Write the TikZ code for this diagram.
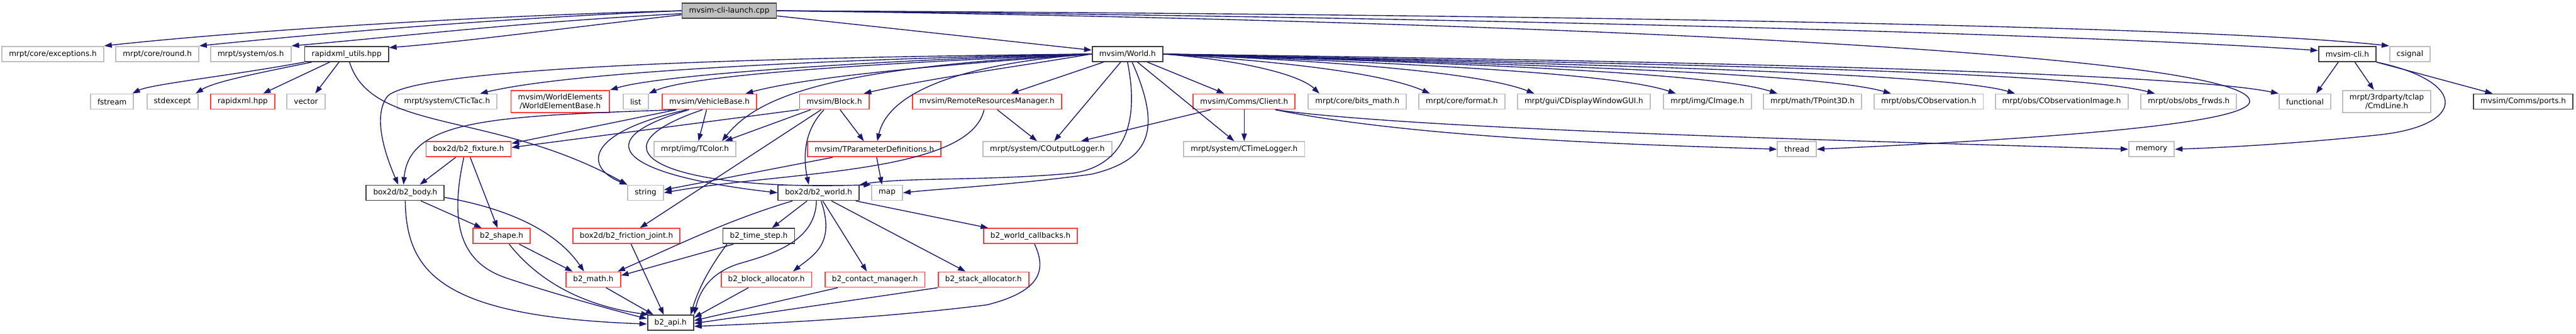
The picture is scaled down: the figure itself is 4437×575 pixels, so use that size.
\documentclass[tikz,border=0pt]{standalone}
\usepackage{fontspec}
\setmainfont{DejaVu Sans}
\usepackage{xcolor}
\definecolor{edgeblue}{RGB}{25,25,112}
\definecolor{truncred}{RGB}{255,64,64}
\definecolor{extgray}{RGB}{191,191,191}
\definecolor{docgray}{RGB}{64,64,64}
\usetikzlibrary{arrows.meta,calc}

\begin{document}
\begin{tikzpicture}[x=0.01cm,y=-0.01cm,
file/.style={draw,line width=0.02cm,fill=white,align=center,inner xsep=0.12cm,inner ysep=0.06cm,minimum height=0.26cm,font=\fontsize{3.7}{4.3}\selectfont},
root/.style={file,draw=docgray,fill=extgray},
doc/.style={file,draw=docgray},
trunc/.style={file,draw=truncred},
ext/.style={file,draw=extgray},
dep/.style={-{Triangle[length=0.13cm,width=0.09cm]},draw=edgeblue,line width=0.015cm}]
\path[fill=white,use as bounding box] (0,0) rectangle (4437,575);
\node[root] (launch) at (1256,18.5) {mvsim-cli-launch.cpp};
\node[ext] (exc) at (91,93) {mrpt/core/exceptions.h};
\node[ext] (round) at (271,93) {mrpt/core/round.h};
\node[ext] (osh) at (432,93) {mrpt/system/os.h};
\node[doc] (rxutils) at (597,93) {rapidxml\_utils.hpp};
\node[doc] (world) at (1942,93) {mvsim/World.h};
\node[doc] (cli) at (4043,93) {mvsim-cli.h};
\node[ext] (csignal) at (4151,93) {csignal};
\node[ext] (fstream) at (193,175) {fstream};
\node[ext] (stdexc) at (297,175) {stdexcept};
\node[trunc] (rxml) at (418,175) {rapidxml.hpp};
\node[ext] (vector) at (527,175) {vector};
\node[ext] (tictac) at (770,175) {mrpt/system/CTicTac.h};
\node[trunc] (elembase) at (965,175) {mvsim/WorldElements\\/WorldElementBase.h};
\node[ext] (list) at (1095,175) {list};
\node[trunc] (vehicle) at (1222,175) {mvsim/VehicleBase.h};
\node[trunc] (block) at (1437,175) {mvsim/Block.h};
\node[trunc] (remres) at (1700,175) {mvsim/RemoteResourcesManager.h};
\node[trunc] (client) at (2143,175) {mvsim/Comms/Client.h};
\node[ext] (bitsmath) at (2338,175) {mrpt/core/bits\_math.h};
\node[ext] (format) at (2518,175) {mrpt/core/format.h};
\node[ext] (dispgui) at (2728,175) {mrpt/gui/CDisplayWindowGUI.h};
\node[ext] (cimage) at (2941,175) {mrpt/img/CImage.h};
\node[ext] (tpoint) at (3122,175) {mrpt/math/TPoint3D.h};
\node[ext] (cobs) at (3322,175) {mrpt/obs/CObservation.h};
\node[ext] (cobsimg) at (3551,175) {mrpt/obs/CObservationImage.h};
\node[ext] (obsfrwds) at (3770,175) {mrpt/obs/obs\_frwds.h};
\node[ext] (functional) at (3970,175) {functional};
\node[ext] (cmdline) at (4111,175) {mrpt/3rdparty/tclap\\/CmdLine.h};
\node[doc] (ports) at (4346,175) {mvsim/Comms/ports.h};
\node[trunc] (fixture) at (807,257) {box2d/b2\_fixture.h};
\node[ext] (tcolor) at (1197,257) {mrpt/img/TColor.h};
\node[trunc] (params) at (1506,257) {mvsim/TParameterDefinitions.h};
\node[ext] (outlog) at (1804,257) {mrpt/system/COutputLogger.h};
\node[ext] (timelog) at (2143,257) {mrpt/system/CTimeLogger.h};
\node[ext] (thread) at (3095,257) {thread};
\node[ext] (memory) at (3706,257) {memory};
\node[doc] (body) at (698,332) {box2d/b2\_body.h};
\node[ext] (string) at (1112,332) {string};
\node[doc] (b2world) at (1410,332) {box2d/b2\_world.h};
\node[ext] (map) at (1528,332) {map};
\node[trunc] (shape) at (864,406.5) {b2\_shape.h};
\node[trunc] (friction) at (1079,406.5) {box2d/b2\_friction\_joint.h};
\node[doc] (timestep) at (1307,406.5) {b2\_time\_step.h};
\node[trunc] (callbacks) at (1775,406.5) {b2\_world\_callbacks.h};
\node[trunc] (b2math) at (1022,481.5) {b2\_math.h};
\node[trunc] (blockalloc) at (1320,481.5) {b2\_block\_allocator.h};
\node[trunc] (contact) at (1507,481.5) {b2\_contact\_manager.h};
\node[trunc] (stackalloc) at (1694,481.5) {b2\_stack\_allocator.h};
\node[doc] (api) at (1155,556) {b2\_api.h};
\draw[dep] (launch.west) .. controls (800,28) and (400,55) .. (exc.north east);
\draw[dep] (launch.west) .. controls (850,32) and (550,58) .. (round.north east);
\draw[dep] ($(launch.west)+(0,5)$) .. controls (900,38) and (700,62) .. (osh.north east);
\draw[dep] ($(launch.west)+(0,7)$) .. controls (1000,45) and (800,72) .. ($(rxutils.north east)+(0,3)$);
\draw[dep] (launch) -- (world);
\draw[dep] (launch.east) .. controls (2600,30) and (3600,60) .. ($(cli.west)+(0,-6)$);
\draw[dep] (launch.east) .. controls (2700,25) and (3800,45) .. (csignal.north west);
\draw[dep] (launch.east) .. controls (2600,35) and (3880,90) .. (3875,175) .. controls (3870,215) and (3500,240) .. (thread.east);
\draw[dep] (rxutils.south west) .. controls (400,130) and (260,145) .. ($(fstream.north east)+(-3,0)$);
\draw[dep] ($(rxutils.south west)+(13,0)$) .. controls (450,125) and (370,140) .. ($(stdexc.north east)+(-5,0)$);
\draw[dep] ($(rxutils.south west)+(44,0)$) -- ($(rxml.north east)+(-21,0)$);
\draw[dep] ($(rxutils.south west)+(60,0)$) -- ($(vector.north)+(16,0)$);
\draw[dep] ($(rxutils.south)+(5,0)$) .. controls (640,230) and (850,190) .. (string.north west);
\draw[dep] (world.west) .. controls (1500,100) and (1000,120) .. ($(tictac.north east)+(-30,0)$);
\draw[dep] (world.west) .. controls (1600,100) and (1150,125) .. (elembase.north east);
\draw[dep] (world.west) .. controls (1600,105) and (1200,125) .. (list.north east);
\draw[dep] (world.west) .. controls (1650,110) and (1400,130) .. ($(vehicle.north east)+(-20,0)$);
\draw[dep] (world.west) .. controls (1750,115) and (1600,135) .. ($(block.north east)+(-10,0)$);
\draw[dep] (world.west) .. controls (1450,115) and (1310,160) .. ($(tcolor.north east)+(-25,0)$);
\draw[dep] (world.west) .. controls (1650,110) and (1530,160) .. ($(params.north)+(5,0)$);
\draw[dep] (world.west) .. controls (1200,100) and (720,120) .. (668,165) .. controls (640,200) and (665,270) .. ($(body.north)+(-12,0)$);
\draw[dep] (world) -- (remres);
\draw[dep] (world) -- (outlog);
\draw[dep] (world) -- (timelog);
\draw[dep] (world) -- (client);
\draw[dep] (world.south) .. controls (1965,220) and (1930,285) .. (1850,298) .. controls (1700,312) and (1560,305) .. (b2world.north east);
\draw[dep] ($(world.south)+(8,0)$) .. controls (2000,220) and (1985,275) .. (1880,300) .. controls (1750,318) and (1620,325) .. (map.east);
\draw[dep] (world.east) .. controls (2150,105) and (2240,130) .. ($(bitsmath.north west)+(20,0)$);
\draw[dep] (world.east) .. controls (2200,105) and (2380,125) .. ($(format.north west)+(20,0)$);
\draw[dep] (world.east) .. controls (2300,105) and (2550,125) .. ($(dispgui.north west)+(30,0)$);
\draw[dep] (world.east) .. controls (2400,108) and (2780,125) .. ($(cimage.north west)+(22,0)$);
\draw[dep] (world.east) .. controls (2500,108) and (2950,125) .. ($(tpoint.north west)+(25,0)$);
\draw[dep] (world.east) .. controls (2600,110) and (3130,125) .. ($(cobs.north west)+(30,0)$);
\draw[dep] (world.east) .. controls (2700,110) and (3350,125) .. ($(cobsimg.north west)+(35,0)$);
\draw[dep] (world.east) .. controls (2800,110) and (3550,120) .. ($(obsfrwds.north west)+(25,0)$);
\draw[dep] (world.east) .. controls (2900,105) and (3750,125) .. (functional.north west);
\draw[dep] ($(cli.south west)+(35,0)$) -- ($(functional.north east)+(-26,0)$);
\draw[dep] ($(cli.south)+(13,0)$) -- ($(cmdline.north west)+(55,0)$);
\draw[dep] (cli.south east) -- ($(ports.north west)+(34,0)$);
\draw[dep] (cli.south east) .. controls (4250,140) and (4250,215) .. (4100,232) .. controls (3950,248) and (3830,254) .. (memory.east);
\draw[dep] (client) -- (timelog);
\draw[dep] (client) -- (outlog);
\draw[dep] ($(client.south east)+(-35,0)$) .. controls (2450,240) and (2850,250) .. (thread.west);
\draw[dep] ($(client.south east)+(-35,0)$) .. controls (2450,225) and (3300,245) .. (memory.west);
\draw[dep] (remres) -- (outlog);
\draw[dep] ($(remres.south)+(-5,0)$) .. controls (1670,300) and (1350,295) .. (string.east);
\draw[dep] ($(params.south west)+(44,0)$) -- ($(string.east)+(0,-5)$);
\draw[dep] ($(params.south)+(4,0)$) -- ($(map.north)+(-9,0)$);
\draw[dep] (block.south west) -- ($(fixture.east)+(0,-3)$);
\draw[dep] ($(block.south west)+(20,0)$) -- ($(tcolor.north east)+(-20,0)$);
\draw[dep] ($(block.south west)+(38,0)$) -- ($(friction.north east)+(-70,0)$);
\draw[dep] ($(block.south west)+(43,0)$) .. controls (1380,230) and (1385,280) .. ($(b2world.north)+(-17,0)$);
\draw[dep] ($(block.south)+(10,0)$) -- ($(params.north)+(-18,0)$);
\draw[dep] ($(vehicle.south west)+(25,0)$) -- ($(fixture.east)+(0,-10)$);
\draw[dep] ($(vehicle.south west)+(25,0)$) .. controls (850,200) and (705,205) .. ($(body.north)+(-3,0)$);
\draw[dep] ($(vehicle.south west)+(43,0)$) .. controls (1000,230) and (1010,290) .. (string.north west);
\draw[dep] ($(vehicle.south west)+(47,0)$) .. controls (1010,240) and (1060,300) .. (b2world.west);
\draw[dep] ($(vehicle.south)+(-12,0)$) .. controls (1000,260) and (1150,330) .. (map.north west);
\draw[dep] ($(vehicle.south)+(-5,0)$) -- ($(tcolor.north)+(6,0)$);
\draw[dep] ($(fixture.south west)+(52,0)$) -- ($(body.north east)+(-43,0)$);
\draw[dep] ($(fixture.south west)+(77,0)$) -- ($(shape.north)+(-7,0)$);
\draw[dep] ($(fixture.south west)+(66,0)$) .. controls (775,380) and (790,450) .. (870,478) .. controls (950,505) and (1060,535) .. ($(api.west)+(0,-7)$);
\draw[dep] ($(body.south)+(27,0)$) -- ($(shape.north west)+(16,0)$);
\draw[dep] ($(body.east)+(0,8)$) .. controls (880,360) and (960,400) .. ($(b2math.north)+(-16,0)$);
\draw[dep] (body.south) .. controls (700,470) and (760,545) .. ($(api.west)+(0,2)$);
\draw[dep] ($(shape.south east)+(-20,0)$) -- ($(b2math.north west)+(12,0)$);
\draw[dep] ($(shape.south)+(13,0)$) .. controls (940,500) and (1030,530) .. ($(api.north west)+(3,0)$);
\draw[dep] ($(friction.south)+(8,0)$) -- ($(api.north west)+(29,0)$);
\draw[dep] ($(b2math.south)+(22,0)$) -- ($(api.north west)+(11,0)$);
\draw[dep] ($(b2world.south west)+(26,0)$) .. controls (1250,380) and (1150,430) .. ($(b2math.north east)+(-6,0)$);
\draw[dep] ($(b2world.south west)+(51,0)$) -- ($(timestep.north east)+(-40,0)$);
\draw[dep] ($(b2world.south west)+(67,0)$) .. controls (1405,420) and (1320,440) .. (1270,455) .. controls (1225,470) and (1205,500) .. (api.north east);
\draw[dep] ($(b2world.south west)+(75,0)$) .. controls (1440,420) and (1400,440) .. ($(blockalloc.north east)+(-33,0)$);
\draw[dep] ($(b2world.south west)+(78,0)$) -- ($(contact.north west)+(73,0)$);
\draw[dep] ($(b2world.south west)+(93,0)$) -- ($(stackalloc.north west)+(48,0)$);
\draw[dep] ($(b2world.south east)+(-7,0)$) -- ($(callbacks.north west)+(9,0)$);
\draw[dep] ($(timestep.south west)+(19,0)$) -- ($(b2math.east)+(0,-7)$);
\draw[dep] ($(timestep.south west)+(8,0)$) .. controls (1230,450) and (1205,490) .. ($(api.north east)+(-6,0)$);
\draw[dep] ($(blockalloc.south west)+(48,0)$) -- ($(api.east)+(0,-9)$);
\draw[dep] ($(contact.south west)+(23,0)$) -- ($(api.east)+(0,-4)$);
\draw[dep] (stackalloc.south west) -- ($(api.east)+(0,1)$);
\draw[dep] ($(callbacks.south)+(7,0)$) .. controls (1800,460) and (1800,500) .. (1700,525) .. controls (1500,550) and (1300,558) .. ($(api.east)+(0,6)$);
\end{tikzpicture}
\end{document}
